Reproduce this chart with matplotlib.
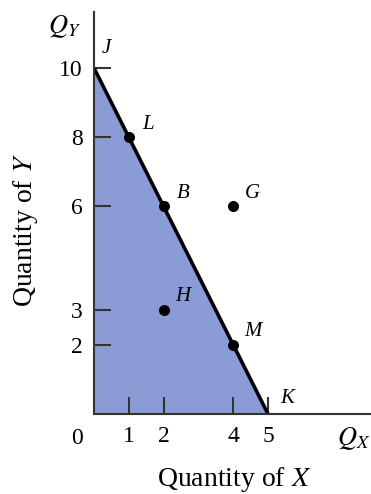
import matplotlib

matplotlib.use("Agg")
import matplotlib.pyplot as plt  # noqa: E402

plt.rcParams["font.family"] = ["Liberation Serif", "DejaVu Serif"]
plt.rcParams["mathtext.fontset"] = "stix"

# budget line J-K: intercepts on each axis
budget_x = [0, 5]
budget_y = [10, 0]

# consumption bundles
point_names = ["L", "B", "G", "H", "M"]
point_x = [1, 2, 4, 2, 4]
point_y = [8, 6, 6, 3, 2]

x_ticks = [1, 2, 4, 5]
y_ticks = [2, 3, 6, 8, 10]

FILL = "#8b9bd5"
AXIS = "#333333"

fig = plt.figure(figsize=(3.71, 4.94), dpi=100)
ax = fig.add_axes([0.2534, 0.162, 0.7466, 0.8138])
ax.set_xlim(0, 7.96)
ax.set_ylim(0, 11.62)

ax.fill_between(budget_x, budget_y, 0, color=FILL, lw=0)
ax.plot(budget_x, budget_y, color="black", lw=2.6, solid_capstyle="butt")
ax.scatter(point_x, point_y, s=48, color="black", zorder=3)
for name, x, y in zip(point_names, point_x, point_y):
    ax.annotate(name, (x, y), xytext=(14, 9.5), textcoords="offset points",
                fontsize=15, style="italic", ha="center", va="center")

for side in ("top", "right"):
    ax.spines[side].set_visible(False)
for side in ("left", "bottom"):
    ax.spines[side].set_linewidth(1.5)
    ax.spines[side].set_color(AXIS)

ax.set_xticks(x_ticks)
ax.set_yticks(y_ticks)
ax.tick_params(direction="in", length=12, width=1.5, color=AXIS,
               labelsize=17, pad=9)
ax.tick_params(axis="y", pad=8)

ax.text(-0.5, -0.7, "0", fontsize=17, ha="center", va="center", clip_on=False)
ax.text(6.98, -0.7, r"$Q_X$", fontsize=19, ha="left", va="center", clip_on=False)
ax.text(-1.33, 11.2, r"$Q_Y$", fontsize=19, ha="left", va="center", clip_on=False)
ax.text(0.22, 10.55, "J", fontsize=15, style="italic", ha="left", va="center")
ax.text(5.35, 0.45, "K", fontsize=15, style="italic", ha="left", va="center")

ax.set_xlabel(r"Quantity of $X$", fontsize=20)
ax.xaxis.set_label_coords(0.507, -0.126)
ax.set_ylabel(r"Quantity of $Y$", fontsize=20)
ax.yaxis.set_label_coords(-0.195, 0.458)

fig.savefig("out.png", dpi=100)
